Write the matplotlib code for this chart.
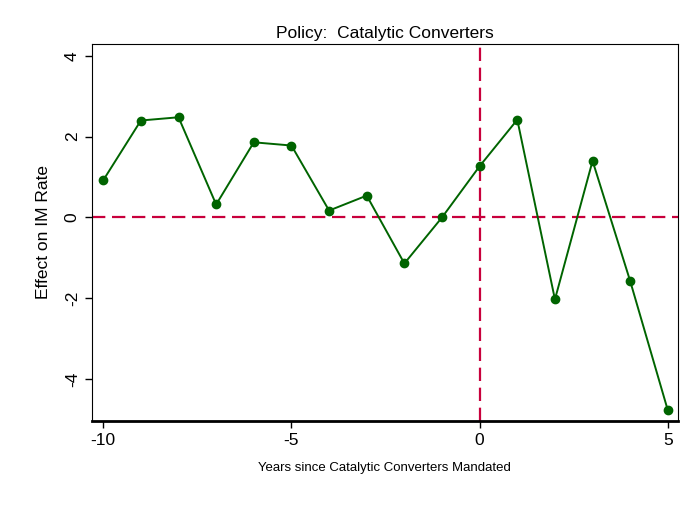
import matplotlib.pyplot as plt
import numpy as np

plt.rcParams["font.family"] = ["Liberation Sans", "DejaVu Sans"]
plt.rcParams["axes.unicode_minus"] = False

# years relative to mandate, estimated effects
years = np.arange(-10, 6)
effect = [0.92, 2.40, 2.48, 0.32, 1.86, 1.78, 0.17, 0.54,
          -1.14, 0.0, 1.27, 2.42, -2.03, 1.40, -1.58, -4.78]

xticks = [-10, -5, 0, 5]
yticks = [-4, -2, 0, 2, 4]

fig = plt.figure(figsize=(6.99, 5.09), dpi=100)
ax = fig.add_axes([0.131, 0.173, 0.839, 0.741])

red = "#c8003c"
ax.axhline(0, color=red, lw=1.6, dashes=(6, 3), zorder=1)
ax.axvline(0, color=red, lw=1.6, dashes=(6, 3), zorder=1)
ax.plot(years, effect, color="#006400", lw=1.4, marker="o", ms=6, zorder=3)

ax.set_xlim(-10.31, 5.27)
ax.set_ylim(-5.04, 4.3)
ax.set_xticks(xticks)
ax.set_yticks(yticks)
ax.tick_params(labelsize=12.5, length=5, width=1)
for lab in ax.get_yticklabels():
    lab.set_rotation(90)
    lab.set_va("center")
ax.spines["bottom"].set_linewidth(2)

ax.set_title("Policy:  Catalytic Converters", fontsize=12.5, pad=4)
ax.set_xlabel("Years since Catalytic Converters Mandated", fontsize=9.5, labelpad=10)
ax.set_ylabel("Effect on IM Rate", fontsize=12.5, labelpad=10)

fig.savefig("out.png", dpi=100)
